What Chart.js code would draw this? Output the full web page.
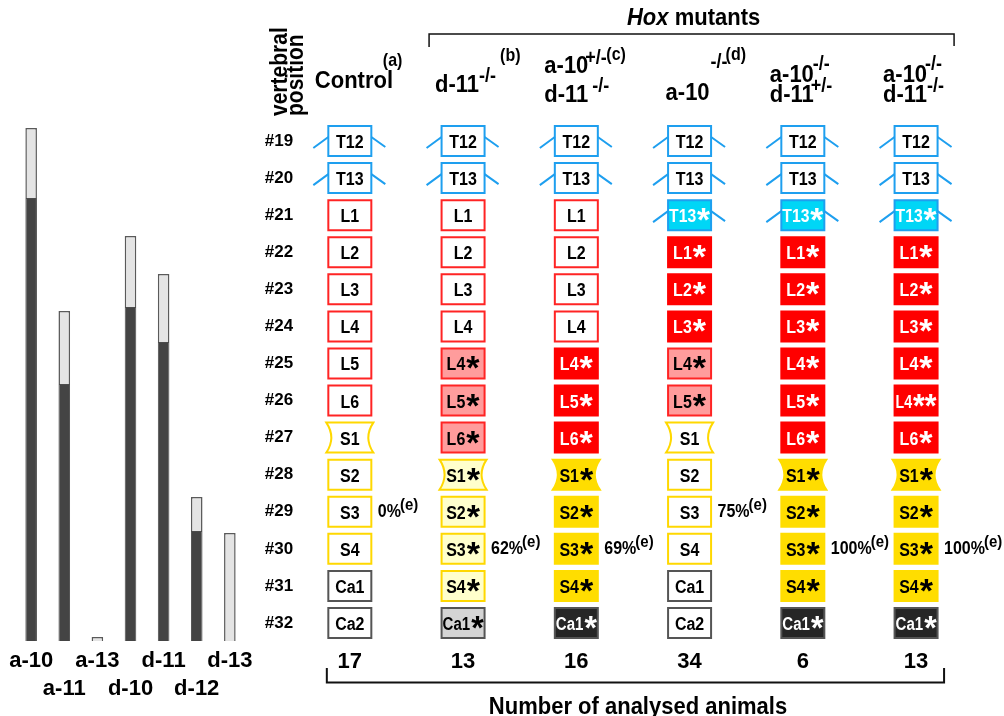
<!DOCTYPE html>
<html lang="en">
<head>
  <meta charset="UTF-8">
  <title>Hox mutants - vertebral identity</title>
  <style>
    body { margin: 0; background: #fff; }
    #wrap { position: relative; width: 1004px; height: 716px; overflow: hidden; }
    canvas { position: absolute; top: 0; }
    #bars { left: 0; }
    #grid { left: 250px; }
  </style>
</head>
<body>
<div id="wrap">
  <canvas id="bars" width="260" height="716"></canvas>
  <canvas id="grid" width="754" height="716"></canvas>
</div>

<script src="https://cdn.jsdelivr.net/npm/chart.js"></script>
<script>
  // left panel: expression bars
  const geneNames = ['a-10', 'a-11', 'a-13', 'd-10', 'd-11', 'd-12', 'd-13'];
  const darkValues = [44.3, 25.7, 0, 33.4, 29.9, 11.0, 0];
  const lightValues = [7.0, 7.3, 0.4, 7.1, 6.8, 3.4, 10.8];

  // right panel: vertebral identity per genotype
  const columns = ['Control', 'd-11-/-', 'a-10+/- d-11-/-', 'a-10-/-', 'a-10-/- d-11+/-', 'a-10-/- d-11-/-'];
  const positions = ['#19', '#20', '#21', '#22', '#23', '#24', '#25', '#26', '#27', '#28', '#29', '#30', '#31', '#32'];
  const counts = [17, 13, 16, 34, 6, 13];

  const cellLabels = [
    ['T12', 'T13', 'L1', 'L2', 'L3', 'L4', 'L5', 'L6', 'S1', 'S2', 'S3', 'S4', 'Ca1', 'Ca2'],
    ['T12', 'T13', 'L1', 'L2', 'L3', 'L4', 'L4*', 'L5*', 'L6*', 'S1*', 'S2*', 'S3*', 'S4*', 'Ca1*'],
    ['T12', 'T13', 'L1', 'L2', 'L3', 'L4', 'L4*', 'L5*', 'L6*', 'S1*', 'S2*', 'S3*', 'S4*', 'Ca1*'],
    ['T12', 'T13', 'T13*', 'L1*', 'L2*', 'L3*', 'L4*', 'L5*', 'S1', 'S2', 'S3', 'S4', 'Ca1', 'Ca2'],
    ['T12', 'T13', 'T13*', 'L1*', 'L2*', 'L3*', 'L4*', 'L5*', 'L6*', 'S1*', 'S2*', 'S3*', 'S4*', 'Ca1*'],
    ['T12', 'T13', 'T13*', 'L1*', 'L2*', 'L3*', 'L4*', 'L4**', 'L6*', 'S1*', 'S2*', 'S3*', 'S4*', 'Ca1*']
  ];
  const cellKinds = [
    ['T', 'T', 'L', 'L', 'L', 'L', 'L', 'L', 'S1', 'S', 'S', 'S', 'C', 'C'],
    ['T', 'T', 'L', 'L', 'L', 'L', 'Lp', 'Lp', 'Lp', 'S1l', 'Sl', 'Sl', 'Sl', 'Cl'],
    ['T', 'T', 'L', 'L', 'L', 'L', 'Lr', 'Lr', 'Lr', 'S1y', 'Sy', 'Sy', 'Sy', 'Cd'],
    ['T', 'T', 'Tc', 'Lr', 'Lr', 'Lr', 'Lp', 'Lp', 'S1', 'S', 'S', 'S', 'C', 'C'],
    ['T', 'T', 'Tc', 'Lr', 'Lr', 'Lr', 'Lr', 'Lr', 'Lr', 'S1y', 'Sy', 'Sy', 'Sy', 'Cd'],
    ['T', 'T', 'Tc', 'Lr', 'Lr', 'Lr', 'Lr', 'Lr', 'Lr', 'S1y', 'Sy', 'Sy', 'Sy', 'Cd']
  ];
  const percentLabels = ['0%', '62%', '69%', '75%', '100%', '100%'];
  const percentRows = ['#29', '#30', '#30', '#29', '#30', '#30'];

  const FAMILY = '"Liberation Sans", Arial, Helvetica, sans-serif';
  function font(size, style) { return (style || '') + ' bold ' + size + 'px ' + FAMILY; }

  // the source figure has slightly tall lettering, so stretch custom text a bit
  function tallText(ctx, t, x, y, sy) {
    ctx.save();
    ctx.translate(x, y);
    ctx.scale(1, sy || 1.12);
    ctx.fillText(t, 0, 0);
    ctx.restore();
  }

  const styles = {
    T:   { fill: '#ffffff', stroke: '#1e9fef', text: '#000', ribs: true },
    Tc:  { fill: '#00d6f6', stroke: '#1e9fef', text: '#fff', ribs: true },
    L:   { fill: '#ffffff', stroke: '#ff2424', text: '#000' },
    Lp:  { fill: '#ff9c9c', stroke: '#ff2424', text: '#000' },
    Lr:  { fill: '#ff0000', stroke: '#ff0000', text: '#fff' },
    S1:  { fill: '#ffffff', stroke: '#ffd800', text: '#000', concave: true },
    S1l: { fill: '#ffffcc', stroke: '#ffd800', text: '#000', concave: true },
    S1y: { fill: '#ffdd00', stroke: '#ffdd00', text: '#000', concave: true },
    S:   { fill: '#ffffff', stroke: '#ffd800', text: '#000' },
    Sl:  { fill: '#ffffcc', stroke: '#ffd800', text: '#000' },
    Sy:  { fill: '#ffdd00', stroke: '#ffdd00', text: '#000' },
    C:   { fill: '#ffffff', stroke: '#555555', text: '#000' },
    Cl:  { fill: '#d4d4d4', stroke: '#555555', text: '#000' },
    Cd:  { fill: '#262626', stroke: '#555555', text: '#fff' }
  };

  // ---------- left bar chart ----------
  new Chart(document.getElementById('bars'), {
    type: 'bar',
    data: {
      labels: geneNames.map((n, i) => i % 2 ? ['', n] : [n, '']),
      datasets: [
        { data: darkValues, backgroundColor: '#444444', borderColor: '#4c4c4c', borderWidth: 1 },
        { data: lightValues, backgroundColor: '#e4e4e4', borderColor: '#5a5a5a', borderWidth: 1.5 }
      ]
    },
    options: {
      responsive: false,
      animation: false,
      events: [],
      layout: { padding: { left: 14.6, right: 13.6, top: 91, bottom: 0 } },
      datasets: { bar: { categoryPercentage: 1, barPercentage: 0.35 } },
      plugins: { legend: { display: false }, tooltip: { enabled: false } },
      scales: {
        x: {
          stacked: true,
          grid: { display: false },
          border: { display: false },
          ticks: {
            color: '#000', autoSkip: false, maxRotation: 0, padding: -2.5,
            font: { family: FAMILY, weight: 'bold', size: 22, lineHeight: 1.3 }
          },
          afterFit: s => { s.height = 75; }
        },
        y: { stacked: true, display: false, min: 0, max: 55 }
      }
    }
  });

  // ---------- right grid ----------
  const cells = [];
  columns.forEach((col, c) => {
    positions.forEach((pos, r) => {
      cells.push({ x: col, y: pos, label: cellLabels[c][r], kind: cellKinds[c][r] });
    });
  });

  function drawCell(ctx, x, y, label, st) {
    const w = 43, h = 30;
    const x0 = x - w / 2, x1 = x + w / 2, y0 = y - h / 2, y1 = y + h / 2;
    ctx.lineWidth = 2;
    ctx.beginPath();
    if (st.concave) {
      ctx.moveTo(x0 - 2, y0);
      ctx.lineTo(x1 + 2, y0);
      ctx.quadraticCurveTo(x1 - 8, y, x1 + 2, y1);
      ctx.lineTo(x0 - 2, y1);
      ctx.quadraticCurveTo(x0 + 8, y, x0 - 2, y0);
      ctx.closePath();
    } else {
      ctx.rect(x0, y0, w, h);
    }
    ctx.fillStyle = st.fill;
    ctx.fill();
    ctx.strokeStyle = st.stroke;
    ctx.stroke();

    if (st.ribs) {
      ctx.beginPath();
      ctx.moveTo(x0, y - 4); ctx.lineTo(x0 - 15, y + 7);
      ctx.moveTo(x1, y - 4); ctx.lineTo(x1 + 14, y + 6);
      ctx.strokeStyle = '#1e9fef';
      ctx.stroke();
    }

    const m = label.match(/^(.*?)(\**)$/);
    const base = m[1], stars = m[2];
    ctx.font = font(16);
    const wb = ctx.measureText(base).width;
    ctx.font = font(34);
    const ws = stars ? ctx.measureText(stars).width : 0;
    const gap = stars ? 1 : 0;
    const total = wb + gap + ws;
    const sc = Math.min(1, 41 / total);
    ctx.save();
    ctx.translate(x, 0);
    ctx.scale(sc, 1);
    ctx.fillStyle = st.text;
    ctx.textAlign = 'left';
    ctx.textBaseline = 'alphabetic';
    const tx = -total / 2;
    ctx.font = font(16);
    tallText(ctx, base, tx, y + 7, 1.1);
    if (stars) {
      ctx.font = font(34);
      ctx.fillText(stars, tx + wb + gap, y + 16);
    }
    ctx.restore();
  }

  // header text runs: [text, dx from column centre, baseline y, size]
  const headerRuns = [
    [['Control', -35, 88, 22], ['(a)', 33, 66, 16]],
    [['d-11', -28, 92, 22], ['-/-', 16, 82, 18], ['(b)', 37, 61, 16]],
    [['a-10', -32, 73, 22], ['+/-', 9, 64, 18], ['(c)', 30, 60, 16], ['d-11', -32, 102, 22], ['-/-', 16, 92, 18]],
    [['a-10', -24, 100, 22], ['-/-', 21, 68, 18], ['(d)', 36, 60, 16]],
    [['a-10', -33, 82, 22], ['-/-', 10, 70, 18], ['d-11', -33, 102, 22], ['+/-', 8, 92, 18]],
    [['a-10', -33, 82, 22], ['-/-', 9, 70, 18], ['d-11', -33, 102, 22], ['-/-', 11, 92, 18]]
  ];

  const gridPlugin = {
    id: 'gridCells',
    afterDatasetsDraw(chart) {
      const ctx = chart.ctx;
      const meta = chart.getDatasetMeta(0);
      const data = chart.data.datasets[0].data;
      ctx.save();
      meta.data.forEach((el, i) => {
        drawCell(ctx, el.x, el.y, data[i].label, styles[data[i].kind]);
      });
      ctx.restore();
    },
    afterDraw(chart) {
      const ctx = chart.ctx;
      const xs = chart.scales.x, ys = chart.scales.y;
      const cx = i => xs.getPixelForValue(i);
      ctx.save();
      ctx.fillStyle = '#000';
      ctx.textAlign = 'left';
      ctx.textBaseline = 'alphabetic';

      // percentages
      percentLabels.forEach((p, i) => {
        const y = ys.getPixelForValue(positions.indexOf(percentRows[i]));
        const x = cx(i) + 28;
        ctx.font = font(16);
        tallText(ctx, p, x, y + 5);
        const w = ctx.measureText(p).width;
        ctx.font = font(15);
        tallText(ctx, '(e)', x + w - 1, y - 2);
      });

      // column headers
      headerRuns.forEach((runs, i) => {
        runs.forEach(([t, dx, y, size]) => {
          ctx.font = font(size);
          tallText(ctx, t, cx(i) + dx, y);
        });
      });

      // vertebral position (rotated)
      [['vertebral', 37], ['position', 53]].forEach(([t, bx]) => {
        ctx.save();
        ctx.translate(bx, 116);
        ctx.rotate(-Math.PI / 2);
        ctx.font = font(21);
        ctx.scale(1, 1.1);
        ctx.fillText(t, 0, 0);
        ctx.restore();
      });

      // Hox mutants title + bracket
      ctx.font = font(22, 'italic');
      const wHox = ctx.measureText('Hox').width;
      ctx.font = font(22);
      const wMut = ctx.measureText(' mutants').width;
      const left = cx(1) - 34, right = cx(5) + 38;
      const hx = (left + right) / 2 - (wHox + wMut) / 2 + 2;
      ctx.font = font(22, 'italic');
      tallText(ctx, 'Hox', hx, 25);
      ctx.font = font(22);
      tallText(ctx, ' mutants', hx + wHox, 25);

      ctx.strokeStyle = '#111';
      ctx.lineWidth = 1.5;
      ctx.beginPath();
      ctx.moveTo(left, 47); ctx.lineTo(left, 34); ctx.lineTo(right, 34); ctx.lineTo(right, 46);
      ctx.stroke();

      // bottom bracket + title
      const bl = cx(0) - 23, br = cx(5) + 28;
      ctx.lineWidth = 2;
      ctx.beginPath();
      ctx.moveTo(bl, 668); ctx.lineTo(bl, 682.5); ctx.lineTo(br, 682.5); ctx.lineTo(br, 668);
      ctx.stroke();
      ctx.font = font(22);
      ctx.textAlign = 'center';
      tallText(ctx, 'Number of analysed animals', 388, 714);
      ctx.restore();
    }
  };

  new Chart(document.getElementById('grid'), {
    type: 'scatter',
    data: { datasets: [{ data: cells, pointRadius: 0, pointHoverRadius: 0 }] },
    options: {
      responsive: false,
      animation: false,
      events: [],
      layout: { padding: { left: 0, right: 31.3, top: 122.5, bottom: 0 } },
      plugins: { legend: { display: false }, tooltip: { enabled: false } },
      scales: {
        x: {
          type: 'category',
          labels: columns,
          offset: true,
          grid: { display: false, drawTicks: false },
          border: { display: false },
          ticks: {
            color: '#000', padding: 7, autoSkip: false, maxRotation: 0,
            font: { family: FAMILY, weight: 'bold', size: 22 },
            callback: (v, i) => counts[i]
          },
          afterFit: s => { s.height = 74.5; }
        },
        y: {
          type: 'category',
          labels: positions,
          offset: true,
          grid: { display: false, drawTicks: false },
          border: { display: false },
          ticks: {
            color: '#000', padding: 0, autoSkip: false,
            font: { family: FAMILY, weight: 'bold', size: 17 }
          },
          afterFit: s => { s.width = 43.2; }
        }
      }
    },
    plugins: [gridPlugin]
  });
</script>
</body>
</html>
